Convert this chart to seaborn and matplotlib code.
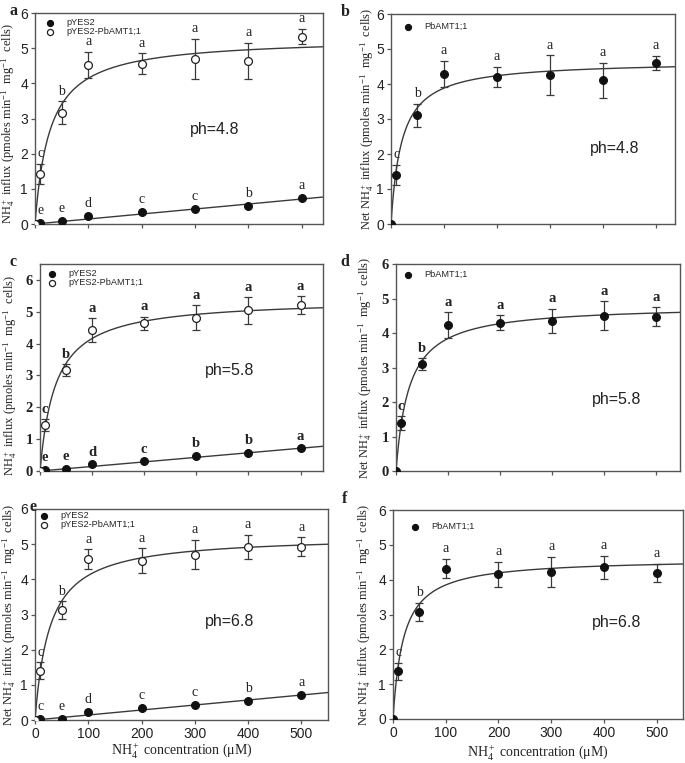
import numpy as np
import pandas as pd
import matplotlib
matplotlib.use("Agg")
import matplotlib.pyplot as plt
import seaborn as sns

# ---------------- data ----------------
conc = [0, 10, 50, 100, 200, 300, 400, 500]

# panel a (pH 4.8)
a_vec = [0, 0.03, 0.08, 0.23, 0.35, 0.43, 0.51, 0.73]
a_amt = [0, 1.43, 3.16, 4.52, 4.56, 4.70, 4.63, 5.33]
a_amt_err = [0, 0.28, 0.33, 0.38, 0.30, 0.57, 0.52, 0.22]
a_amt_let = ["", "c", "b", "a", "a", "a", "a", "a"]
a_vec_let = ["", "e", "e", "d", "c", "c", "b", "a"]

# panel b (pH 4.8, net)
b_net = [0, 1.40, 3.11, 4.29, 4.21, 4.25, 4.11, 4.60]
b_net_err = [0, 0.29, 0.33, 0.38, 0.29, 0.57, 0.50, 0.21]
b_let = ["", "c", "b", "a", "a", "a", "a", "a"]

# panel c (pH 5.8)
c_vec = [0, 0.04, 0.07, 0.22, 0.31, 0.48, 0.57, 0.72]
c_amt = [0, 1.44, 3.17, 4.43, 4.64, 4.82, 5.04, 5.22]
c_amt_err = [0, 0.19, 0.18, 0.38, 0.21, 0.38, 0.41, 0.28]
c_amt_let = ["", "c", "b", "a", "a", "a", "a", "a"]
c_vec_let = ["", "e", "e", "d", "c", "b", "b", "a"]

# panel d (pH 5.8, net)
d_net = [0, 1.39, 3.10, 4.23, 4.30, 4.35, 4.50, 4.47]
d_net_err = [0, 0.19, 0.17, 0.37, 0.22, 0.36, 0.42, 0.27]
d_let = ["", "c", "b", "a", "a", "a", "a", "a"]

# panel e (pH 6.8)
e_vec = [0, 0.03, 0.04, 0.22, 0.34, 0.44, 0.55, 0.72]
e_amt = [0, 1.40, 3.12, 4.57, 4.53, 4.70, 4.93, 4.93]
e_amt_err = [0, 0.24, 0.26, 0.28, 0.35, 0.42, 0.34, 0.26]
e_amt_let = ["", "c", "b", "a", "a", "a", "a", "a"]
e_vec_let = ["", "c", "e", "d", "c", "c", "b", "a"]

# panel f (pH 6.8, net)
f_net = [0, 1.37, 3.08, 4.32, 4.15, 4.23, 4.35, 4.20]
f_net_err = [0, 0.25, 0.26, 0.28, 0.36, 0.43, 0.34, 0.26]
f_let = ["", "c", "b", "a", "a", "a", "a", "a"]

# fitted kinetic parameters (Michaelis-Menten Vmax, Km) and linear slopes
amt_vmax = {"a": 5.30, "c": 5.41, "e": 5.25}
amt_km = {"a": 27.9, "c": 30.0, "e": 27.7}
vec_slope = {"a": 0.00142, "c": 0.00143, "e": 0.00142}
net_vmax = {"b": 4.66, "d": 4.81, "f": 4.61}
net_km = {"b": 20.0, "d": 25.2, "f": 19.8}

ph_text = {"a": "ph=4.8", "b": "ph=4.8", "c": "ph=5.8", "d": "ph=5.8",
           "e": "ph=6.8", "f": "ph=6.8"}

# ---------------- style ----------------
sns.set_theme(style="ticks")
plt.rcParams["font.family"] = ["Liberation Sans", "DejaVu Sans"]
plt.rcParams["mathtext.fontset"] = "custom"
plt.rcParams["mathtext.rm"] = "Liberation Serif"
plt.rcParams["mathtext.it"] = "Liberation Serif:italic"
plt.rcParams["mathtext.bf"] = "Liberation Serif:bold"

W, H = 685, 763
fig = plt.figure(figsize=(W / 100, H / 100), dpi=100)

# pixel boxes: left, right, top, bottom
boxes = {
    "a": (35, 323, 13, 224),
    "b": (391, 675, 14, 224),
    "c": (40, 323, 264, 471),
    "d": (396, 680, 264, 471),
    "e": (35, 328, 509, 720),
    "f": (393, 683, 510, 719),
}
xmax = {"a": 540, "b": 536, "c": 543, "d": 546, "e": 550, "f": 550}
ymax = {"a": 6, "b": 6, "c": 6.5, "d": 6, "e": 6, "f": 6}
ylab_pos = {"a": (-0.062, 0.475), "b": (-0.053, 0.5), "c": (-0.074, 0.46),
            "d": (-0.077, 0.5), "e": (-0.057, 0.5), "f": (-0.069, 0.5)}
xlab_y = {"e": -0.10, "f": -0.115}
ph_pos = {"a": (337, 2.7), "b": (422, 2.17), "c": (364, 3.16), "d": (425, 2.06),
          "e": (366, 2.79), "f": (425, 2.78)}
# legend: marker x offset from axes left, first row centre from axes top (px)
leg_pos = {"a": (15, 10), "b": (17, 13), "c": (12, 10), "d": (12, 11),
           "e": (9, 7), "f": (22, 17)}

serif = ["Liberation Serif", "DejaVu Serif"]
sans = ["Liberation Sans", "DejaVu Sans"]
DARK = "#222222"
LINE = "#3a3a3a"
LEG_FS = 6.6

ylab_plain = r"NH$_4^+$ influx (pmoles min$^{-1}$  mg$^{-1}$  cells)"
ylab_net = r"Net NH$_4^+$ influx (pmoles min$^{-1}$  mg$^{-1}$  cells)"
xlab = r"NH$_4^+$ concentration ($\mathrm{\mu}$M)"


def make_ax(key):
    l, r, t, b = boxes[key]
    ax = fig.add_axes([l / W, 1 - b / H, (r - l) / W, (b - t) / H])
    return ax


def style_ax(ax, key, bold, show_xticklabels):
    ax.set_xlim(0, xmax[key])
    ax.set_ylim(0, ymax[key])
    for s in ax.spines.values():
        s.set_visible(True)
        s.set_color("#555555")
        s.set_linewidth(1.0)
    ax.set_xticks([0, 100, 200, 300, 400, 500])
    ax.set_yticks([0, 1, 2, 3, 4, 5, 6])
    ax.tick_params(direction="out", length=3, width=0.9, color="#555555",
                   labelcolor=DARK, pad=2)
    fam = serif if bold else sans
    wt = "bold" if bold else "normal"
    ax.set_yticklabels([str(v) for v in [0, 1, 2, 3, 4, 5, 6]],
                       fontfamily=fam, fontweight=wt, fontsize=10.5 if bold else 10)
    if show_xticklabels:
        ax.set_xticklabels([str(v) for v in [0, 100, 200, 300, 400, 500]],
                           fontfamily=fam, fontsize=10)
        ax.set_xlabel(xlab, fontfamily=serif, fontsize=10, color=DARK)
        ax.xaxis.set_label_coords(0.5, xlab_y[key])
        ax.xaxis.label.set_va("top")
    else:
        ax.set_xticklabels([])
        ax.set_xlabel("")


def add_errorbars(ax, y, err):
    xs = [x for x, e in zip(conc, err) if e > 0]
    ys = [v for v, e in zip(y, err) if e > 0]
    es = [e for e in err if e > 0]
    ax.errorbar(xs, ys, yerr=es, fmt="none", ecolor=LINE, elinewidth=0.9,
                capsize=3.2, capthick=0.9, zorder=2)


def add_letters(ax, y, err, letters, bold, offset):
    for x, v, e, lt in zip(conc, y, err, letters):
        if not lt:
            continue
        ax.text(x, v + e + offset, lt, ha="center", va="bottom",
                fontfamily=serif, fontsize=10.5 if bold else 10,
                fontweight="bold" if bold else "normal", color=DARK)


def add_legend(ax, key):
    l, r, t, b = boxes[key]
    mx, ry = leg_pos[key]
    hl = 1.0
    half_handle_px = hl * LEG_FS * 100 / 72 / 2
    ax_x = (mx - half_handle_px) / (r - l)
    ax_y = 1 - (ry - 0.55 * LEG_FS * 100 / 72) / (b - t)
    ax.legend(loc="upper left", bbox_to_anchor=(ax_x, ax_y), frameon=False,
              prop={"family": sans, "size": LEG_FS}, handletextpad=1.3,
              labelspacing=0.05, borderaxespad=0, handlelength=hl,
              borderpad=0, markerscale=0.78)


def finish(ax, key, ylabel):
    ax.set_ylabel(ylabel, fontfamily=serif, fontsize=9, color=DARK)
    ax.yaxis.set_label_coords(*ylab_pos[key])
    px, py = ph_pos[key]
    ax.text(px, py, ph_text[key], ha="center", va="center", fontfamily=sans,
            fontsize=11.5, color=DARK)


def two_series_panel(key, vec, amt, amt_err, amt_let, vec_let, ylabel, bold, show_x):
    ax = make_ax(key)
    xs = np.linspace(0, xmax[key], 600)
    sns.lineplot(x=xs, y=amt_vmax[key] * xs / (amt_km[key] + xs), ax=ax,
                 color=LINE, lw=1.0, zorder=1)
    sns.lineplot(x=xs, y=vec_slope[key] * xs, ax=ax, color=LINE, lw=1.0, zorder=1)
    add_errorbars(ax, amt, amt_err)
    sns.scatterplot(x=conc, y=vec, ax=ax, s=32, color="#111111", edgecolor="#111111",
                    linewidth=0.8, zorder=3, label="pYES2")
    sns.scatterplot(x=conc, y=amt, ax=ax, s=32, color="white", edgecolor="#222222",
                    linewidth=0.9, zorder=4, label="pYES2-PbAMT1;1")
    add_letters(ax, amt, amt_err, amt_let, bold, 0.1)
    add_letters(ax, vec, [0] * len(vec), vec_let, bold, 0.17)
    add_legend(ax, key)
    style_ax(ax, key, bold, show_x)
    finish(ax, key, ylabel)
    return ax


def net_panel(key, net, err, letters, bold, show_x):
    ax = make_ax(key)
    xs = np.linspace(0, xmax[key], 600)
    sns.lineplot(x=xs, y=net_vmax[key] * xs / (net_km[key] + xs), ax=ax,
                 color=LINE, lw=1.0, zorder=1)
    add_errorbars(ax, net, err)
    sns.scatterplot(x=conc, y=net, ax=ax, s=32, color="#111111", edgecolor="#111111",
                    linewidth=0.8, zorder=3, label="PbAMT1;1")
    add_letters(ax, net, err, letters, bold, 0.1)
    add_legend(ax, key)
    style_ax(ax, key, bold, show_x)
    finish(ax, key, ylab_net)
    return ax


two_series_panel("a", a_vec, a_amt, a_amt_err, a_amt_let, a_vec_let, ylab_plain, False, False)
net_panel("b", b_net, b_net_err, b_let, False, False)
two_series_panel("c", c_vec, c_amt, c_amt_err, c_amt_let, c_vec_let, ylab_plain, True, False)
net_panel("d", d_net, d_net_err, d_let, True, False)
two_series_panel("e", e_vec, e_amt, e_amt_err, e_amt_let, e_vec_let, ylab_net, False, True)
net_panel("f", f_net, f_net_err, f_let, False, True)

# panel letters
for lt, (px, py) in {"a": (13, 11), "b": (345, 12), "c": (13, 262), "d": (345, 262),
                     "e": (33, 507), "f": (345, 499)}.items():
    fig.text(px / W, 1 - py / H, lt, ha="center", va="center", fontfamily=serif,
             fontweight="bold", fontsize=11.5, color=DARK)

fig.savefig("out.png", dpi=100)
